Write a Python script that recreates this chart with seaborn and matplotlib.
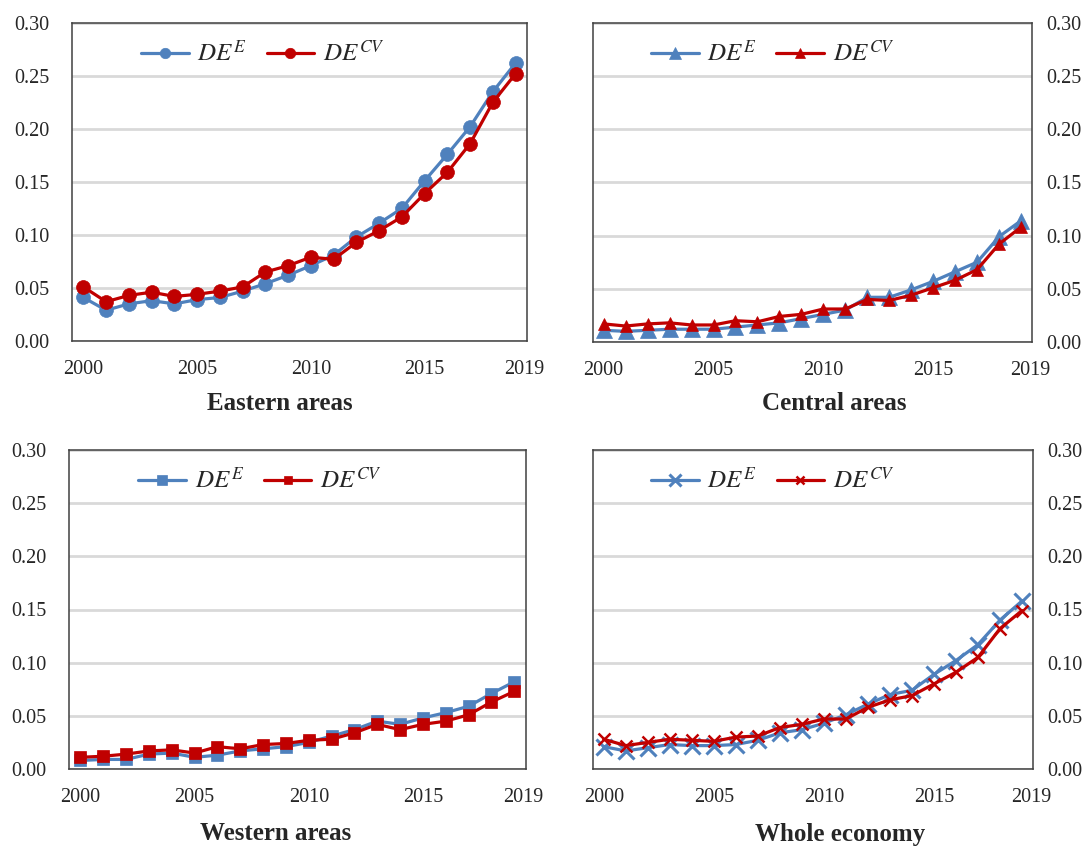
import numpy as np
import pandas as pd
import matplotlib
matplotlib.use("Agg")
import matplotlib.pyplot as plt
import seaborn as sns

years = [2000, 2001, 2002, 2003, 2004, 2005, 2006, 2007, 2008, 2009,
         2010, 2011, 2012, 2013, 2014, 2015, 2016, 2017, 2018, 2019]

eastern_E = [0.041, 0.029, 0.035, 0.038, 0.035, 0.039, 0.041, 0.047, 0.054, 0.062,
             0.071, 0.081, 0.098, 0.111, 0.125, 0.151, 0.176, 0.202, 0.235, 0.262]
eastern_CV = [0.051, 0.037, 0.043, 0.046, 0.042, 0.044, 0.047, 0.051, 0.065, 0.071,
              0.079, 0.077, 0.093, 0.104, 0.117, 0.139, 0.159, 0.186, 0.225, 0.252]

central_E = [0.011, 0.010, 0.011, 0.012, 0.012, 0.012, 0.014, 0.016, 0.018, 0.022,
             0.026, 0.030, 0.042, 0.042, 0.049, 0.057, 0.066, 0.075, 0.099, 0.114]
central_CV = [0.017, 0.015, 0.017, 0.018, 0.016, 0.016, 0.020, 0.019, 0.024, 0.026,
              0.031, 0.031, 0.040, 0.039, 0.044, 0.051, 0.058, 0.068, 0.092, 0.108]

western_E = [0.008, 0.009, 0.009, 0.014, 0.015, 0.011, 0.013, 0.017, 0.019, 0.021,
             0.025, 0.031, 0.037, 0.045, 0.042, 0.048, 0.053, 0.059, 0.071, 0.082]
western_CV = [0.011, 0.012, 0.014, 0.017, 0.018, 0.015, 0.021, 0.019, 0.023, 0.024,
              0.027, 0.028, 0.034, 0.042, 0.037, 0.042, 0.045, 0.051, 0.063, 0.073]

whole_E = [0.021, 0.017, 0.020, 0.023, 0.022, 0.022, 0.023, 0.027, 0.034, 0.037,
           0.043, 0.051, 0.061, 0.070, 0.074, 0.089, 0.102, 0.117, 0.140, 0.158]
whole_CV = [0.028, 0.022, 0.025, 0.028, 0.027, 0.026, 0.030, 0.031, 0.039, 0.042,
            0.047, 0.047, 0.058, 0.065, 0.069, 0.080, 0.091, 0.105, 0.132, 0.149]

panel_titles = ["Eastern areas", "Central areas", "Western areas", "Whole economy"]
series_labels = [r"$DE^{E}$", r"$DE^{CV}$"]
x_tick_labels = ["2000", "2005", "2010", "2015", "2019"]
y_ticks = [0.00, 0.05, 0.10, 0.15, 0.20, 0.25, 0.30]

sns.set_style("white")
plt.rcParams["font.family"] = ["Liberation Serif", "DejaVu Serif"]
plt.rcParams["mathtext.fontset"] = "stix"

BLUE = "#4F81BD"
RED = "#C00000"

fig = plt.figure(figsize=(10.91, 8.48), dpi=100)

W, H = 1091, 848
def add_ax(left, right, top, bottom):
    return fig.add_axes([left / W, (H - bottom) / H, (right - left) / W, (bottom - top) / H])

axes = [add_ax(72, 527, 22.7, 341),
        add_ax(592.7, 1032, 22.7, 342),
        add_ax(69, 525.7, 450, 769),
        add_ax(592.7, 1033, 450, 769)]

data = [(eastern_E, eastern_CV), (central_E, central_CV),
        (western_E, western_CV), (whole_E, whole_CV)]
markers = ["o", "^", "s", "x"]
msizes = [(10, 10), (11, 9), (9, 8), (11, 8)]
legend_anchor = [(0.13, 0.975), (0.11, 0.975), (0.13, 0.975), (0.11, 0.975)]
title_pos = [(280, 404), (834, 404), (276, 834), (840, 834)]
right_side = [False, True, False, True]

x = np.arange(len(years))

for i, ax in enumerate(axes):
    e, cv = data[i]
    df = pd.DataFrame({"pos": x, "E": e, "CV": cv})
    m = markers[i]
    for col, color, lab, ms in [("E", BLUE, series_labels[0], msizes[i][0]),
                                ("CV", RED, series_labels[1], msizes[i][1])]:
        kw = dict(marker=m, markersize=ms, color=color, linewidth=2.3,
                  markeredgecolor=color, markerfacecolor=color)
        if m == "x":
            kw["markeredgewidth"] = 2.2 if col == "E" else 1.8
        else:
            kw["markeredgewidth"] = 0.5
        sns.lineplot(data=df, x="pos", y=col, ax=ax, label=lab, **kw)

    ax.set_xlim(-0.5, 19.5)
    ax.set_ylim(0, 0.30)
    ax.set_yticks(y_ticks)
    ax.set_yticklabels([f"{v:.2f}" for v in y_ticks])
    ax.set_xticks([0, 5, 10, 15, 19.4])
    ax.set_xticklabels(x_tick_labels)
    ax.set_xticks(np.arange(0.5, 19, 1.0), minor=True)
    ax.tick_params(axis="x", which="major", length=0, pad=14, labelsize=14.5)
    ax.tick_params(axis="x", which="minor", direction="in", length=7, width=1, color="#404040")
    ax.tick_params(axis="y", length=0, labelsize=14.5, pad=10.5 if right_side[i] else 16)
    if right_side[i]:
        ax.yaxis.tick_right()
        ax.tick_params(axis="y", length=0)
    ax.set_xlabel("")
    ax.set_ylabel("")
    ax.set_axisbelow(True)
    ax.yaxis.grid(True, color="#D9D9D9", linewidth=2)
    ax.xaxis.grid(False)
    for s in ax.spines.values():
        s.set_visible(True)
        s.set_color("#404040")
        s.set_linewidth(1.1)

    leg = ax.legend(loc="upper left", bbox_to_anchor=legend_anchor[i], ncol=2,
                    frameon=False, fontsize=18, handlelength=1.9, handletextpad=0.35,
                    columnspacing=0.8, markerscale=0.75, borderaxespad=0)

    tx, ty = title_pos[i]
    fig.text(tx / W, (H - ty) / H, panel_titles[i], ha="center", va="center",
             fontsize=18, fontweight="bold")

fig.savefig("out.png", dpi=100)
